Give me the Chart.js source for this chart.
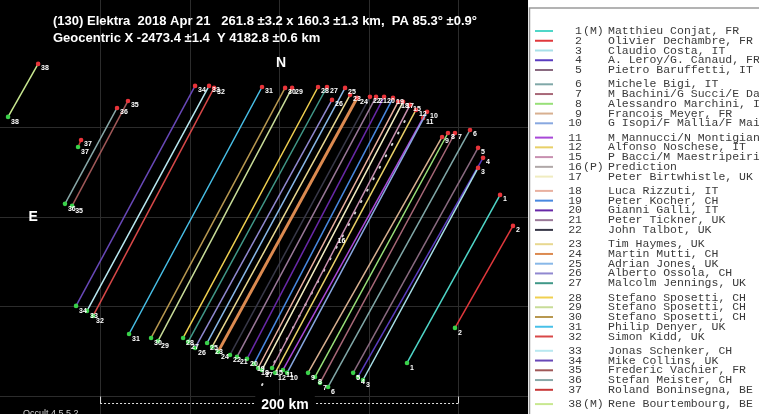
<!DOCTYPE html>
<html>
<head>
<meta charset="utf-8">
<script src="https://cdn.jsdelivr.net/npm/chart.js"></script>
<style>
body { margin: 0; background: #fff; }
#wrap { width: 759px; height: 414px; position: relative; }
</style>
</head>
<body>
<div id="wrap"><canvas id="occ"></canvas></div>
<script>
// observers in legend order
const obsNum = ['1','2','3','4','5','6','7','8','9','10','11','12','15','16','17','18','19','20','21','22',
  '23','24','25','26','27','28','29','30','31','32','33','34','35','36','37','38'];
const obsFlag = ['(M)','','','','','','','','','','','','','(P)','','','','','','',
  '','','','','','','','','','','','','','','','(M)'];
const obsName = ['Matthieu Conjat, FR','Olivier Dechambre, FR','Claudio Costa, IT','A. Leroy/G. Canaud, FR',
  'Pietro Baruffetti, IT','Michele Bigi, IT','M Bachini/G Succi/E Dal Canto, IT','Alessandro Marchini, IT',
  'Francois Meyer, FR','G Isopi/F Mallia/F Maistrello, IT','M Mannucci/N Montigiani, IT','Alfonso Noschese, IT',
  'P Bacci/M Maestripeiri, IT','Prediction','Peter Birtwhistle, UK','Luca Rizzuti, IT','Peter Kocher, CH',
  'Gianni Galli, IT','Peter Tickner, UK','John Talbot, UK','Tim Haymes, UK','Martin Mutti, CH',
  'Adrian Jones, UK','Alberto Ossola, CH','Malcolm Jennings, UK','Stefano Sposetti, CH','Stefano Sposetti, CH',
  'Stefano Sposetti, CH','Philip Denyer, UK','Simon Kidd, UK','Jonas Schenker, CH','Mike Collins, UK',
  'Frederic Vachier, FR','Stefan Meister, CH','Roland Boninsegna, BE','Rene Bourtembourg, BE'];
const obsColor = ['#4fd6c8','#e0383c','#a8e0e8','#5a3cc0','#8a6a80','#80a8a8','#a86878','#98e078',
  '#d8b090','#88a8e0','#a848d8','#e8d068','#c890b0','#b0a8a8','#f0ecc0','#e8b0a0','#4888e0','#6828a8',
  '#9a7898','#383848','#e8d890','#dc8a50','#88b8e8','#9088d0','#409888','#f0d050','#c8dc98','#b89850',
  '#48c0e8','#d84848','#b8e8f0','#6848b8','#a05858','#88a8a8','#c83838','#c8e890'];

// chord ends in km (disappearance at top, reappearance at bottom)
const topX = [223.5,230.7,211.2,214.0,211.2,206.7,198.3,194.4,191.1,182.7,180.5,176.5,173.2,171.5,169.3,166.5,
  163.7,158.7,154.2,150.8,139.7,143.6,136.9,129.6,126.8,121.8,107.3,103.4,90.5,63.7,60.9,53.1,15.6,9.5,-10.6,-34.6];
const topY = [112.3,95.0,127.4,133.0,138.6,148.6,146.9,146.9,144.7,158.7,155.3,159.8,162.6,155.9,164.3,164.3,
  166.5,167.1,167.1,167.1,168.2,166.5,172.1,165.4,172.6,172.6,172.1,172.1,172.6,172.1,173.2,173.2,164.8,160.9,143.0,185.5];
const botX = [171.5,198.3,146.9,144.1,141.4,127.4,122.9,120.1,116.2,104.5,102.2,97.8,96.1,90.5,90.5,88.3,
  86.0,82.1,76.5,72.6,62.6,65.9,59.8,53.1,49.2,46.4,32.4,28.5,16.2,-3.9,-7.3,-13.4,-15.6,-19.6,-12.3,-51.4];
const botY = [18.4,38.0,8.9,10.6,12.9,5.0,7.3,10.6,12.9,12.9,14.5,12.9,15.6,6.1,14.5,15.6,
  17.9,20.7,21.8,22.9,27.4,24.6,29.6,26.8,30.2,32.4,30.7,32.4,34.6,44.7,47.5,50.3,106.2,107.3,139.1,155.9];

const gridX = [0, 50, 100, 150, 200];
const gridY = [0, 50, 100, 150];
const scaleBarKm = 200;

const title1 = '(130) Elektra  2018 Apr 21   261.8 \u00b13.2 x 160.3 \u00b11.3 km,  PA 85.3\u00b0 \u00b10.9\u00b0';
const title2 = 'Geocentric X -2473.4 \u00b11.4  Y 4182.8 \u00b10.6 km';

const datasets = obsNum.map((n, i) => {
  const pred = obsFlag[i] === '(P)';
  return {
    label: n,
    data: [{ x: botX[i], y: botY[i] }, { x: topX[i], y: topY[i] }],
    showLine: true,
    borderColor: pred ? '#d8d8d8' : obsColor[i],
    borderWidth: pred ? 2 : (n === '24' ? 3 : 1.5),
    borderDash: pred ? [1, 12] : [],
    borderCapStyle: pred ? 'round' : 'butt',
    pointRadius: pred ? 0 : 2.3,
    pointBackgroundColor: ['#3ad14a', '#e8343a'],
    pointBorderWidth: 0
  };
});

const occultPlot = {
  id: 'occultPlot',
  beforeDraw(chart) {
    const ctx = chart.ctx, a = chart.chartArea;
    ctx.save();
    ctx.fillStyle = '#fff';
    ctx.fillRect(0, 0, chart.width, chart.height);
    ctx.fillStyle = '#000';
    ctx.fillRect(a.left, a.top, a.right - a.left, a.bottom - a.top);
    ctx.strokeStyle = '#9a9a9a';
    ctx.lineWidth = 1.5;
    ctx.beginPath();
    ctx.moveTo(a.right + 1.5, chart.height);
    ctx.lineTo(a.right + 1.5, 8);
    ctx.lineTo(chart.width, 8);
    ctx.stroke();
    ctx.restore();
  },
  beforeDatasetsDraw(chart) {
    const ctx = chart.ctx, xs = chart.scales.x, ys = chart.scales.y, a = chart.chartArea;
    ctx.save();
    ctx.strokeStyle = '#2c2c2c';
    ctx.lineWidth = 1;
    gridX.forEach(v => {
      const p = Math.round(xs.getPixelForValue(v)) + 0.5;
      ctx.beginPath(); ctx.moveTo(p, a.top); ctx.lineTo(p, a.bottom); ctx.stroke();
    });
    gridY.forEach(v => {
      const p = Math.round(ys.getPixelForValue(v)) + 0.5;
      ctx.beginPath(); ctx.moveTo(a.left, p); ctx.lineTo(a.right, p); ctx.stroke();
    });
    ctx.restore();
  },
  afterDatasetsDraw(chart) {
    const ctx = chart.ctx, xs = chart.scales.x, ys = chart.scales.y;
    ctx.save();
    // chord labels
    ctx.font = 'bold 7px "Liberation Sans", Arial';
    ctx.fillStyle = '#fff';
    ctx.textBaseline = 'middle';
    obsNum.forEach((n, i) => {
      const pts = chart.getDatasetMeta(i).data;
      if (obsFlag[i] === '(P)') {
        const mx = (pts[0].x + pts[1].x) / 2, my = (pts[0].y + pts[1].y) / 2;
        ctx.fillText(n, mx + 3, my - 10);
        return;
      }
      ctx.fillText(n, pts[0].x + 3, pts[0].y + 5);
      ctx.fillText(n, pts[1].x + 3, pts[1].y + 4);
    });

    // title
    ctx.font = 'bold 13px "Liberation Sans", Arial';
    ctx.textBaseline = 'alphabetic';
    ctx.fillText(title1, 53, 25, 424);
    ctx.fillText(title2, 53, 42, 272);

    // compass
    ctx.font = 'bold 14px "Liberation Sans", Arial';
    ctx.textAlign = 'center';
    ctx.textBaseline = 'middle';
    ctx.fillText('N', xs.getPixelForValue(100) + 2, ys.getPixelForValue(186));
    ctx.fillText('E', xs.getPixelForValue(-37.4), ys.getPixelForValue(100));

    // scale bar
    const x0 = xs.getPixelForValue(0), x1 = xs.getPixelForValue(scaleBarKm);
    const yb = Math.round(ys.getPixelForValue(-3.9)) + 0.5;
    ctx.strokeStyle = '#e0e0e0';
    ctx.lineWidth = 1;
    ctx.setLineDash([2, 2]);
    ctx.beginPath(); ctx.moveTo(x0, yb); ctx.lineTo(x1, yb); ctx.stroke();
    ctx.setLineDash([]);
    ctx.beginPath();
    ctx.moveTo(x0 + 0.5, yb - 7); ctx.lineTo(x0 + 0.5, yb);
    ctx.moveTo(x1 + 0.5, yb - 7); ctx.lineTo(x1 + 0.5, yb);
    ctx.stroke();
    const lbl = scaleBarKm + ' km';
    const cx = (x0 + x1) / 2 + 6;
    const w = ctx.measureText(lbl).width;
    ctx.fillStyle = '#000';
    ctx.fillRect(cx - w / 2 - 6, yb - 8, w + 12, 16);
    ctx.fillStyle = '#fff';
    ctx.fillText(lbl, cx, yb + 2);

    // program tag
    ctx.font = '9px "Liberation Sans", Arial';
    ctx.textAlign = 'left';
    ctx.textBaseline = 'alphabetic';
    ctx.fillStyle = '#d0d0d0';
    ctx.fillText('Occult 4.5.5.2', 23, 416);

    // legend
    ctx.font = '11.5px "Liberation Mono", "Courier New", monospace';
    ctx.textBaseline = 'middle';
    obsNum.forEach((n, i) => {
      const g = Math.floor(i / 5), r = i % 5;
      const y = 31 + g * 53.3 + r * 9.75;
      ctx.strokeStyle = obsColor[i];
      ctx.lineWidth = 2;
      ctx.beginPath(); ctx.moveTo(535, y); ctx.lineTo(553, y); ctx.stroke();
      ctx.fillStyle = '#3a3a3a';
      ctx.textAlign = 'right';
      ctx.fillText(n, 582, y);
      ctx.textAlign = 'left';
      ctx.fillText(obsFlag[i], 583, y);
      ctx.fillText(obsName[i], 608, y);
    });
    ctx.restore();
  }
};

new Chart(document.getElementById('occ'), {
  type: 'scatter',
  data: { datasets: datasets },
  options: {
    responsive: true,
    maintainAspectRatio: false,
    animation: false,
    layout: { autoPadding: false, padding: { left: 0, right: 231, top: 0, bottom: 0 } },
    elements: { line: { tension: 0 } },
    plugins: { legend: { display: false }, tooltip: { enabled: false } },
    scales: {
      x: { type: 'linear', min: -55.9, max: 239.1, display: false },
      y: { type: 'linear', min: -10.1, max: 221.2, display: false }
    }
  },
  plugins: [occultPlot]
});
</script>
</body>
</html>
